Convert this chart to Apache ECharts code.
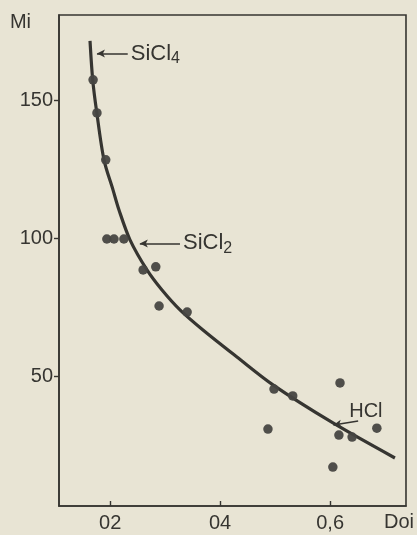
<!DOCTYPE html>
<html>
<head>
<meta charset="utf-8">
<script src="https://cdn.jsdelivr.net/npm/echarts@6/dist/echarts.min.js"></script>
<style>
  html, body { margin: 0; padding: 0; background: #e8e4d4; }
  #chart { width: 417px; height: 535px; }
</style>
</head>
<body>
<div id="chart"></div>
<script>
// measured points (Doi, Mi)
const pointsX = [0.169, 0.176, 0.192, 0.194, 0.207, 0.225, 0.260, 0.283, 0.289, 0.340,
  0.498, 0.532, 0.618, 0.487, 0.616, 0.640, 0.685, 0.605];
const pointsY = [157.5, 145.5, 128.5, 99.8, 99.8, 99.8, 88.6, 89.7, 75.5, 73.3,
  45.4, 42.9, 47.6, 30.9, 28.7, 28.0, 31.2, 17.1];

// fitted curve
const curveX = [0.1634, 0.1683, 0.1755, 0.1888, 0.2052, 0.2161, 0.2361, 0.2670,
  0.2943, 0.3270, 0.3688, 0.4306, 0.4961, 0.6052, 0.7179];
const curveY = [171.6, 157.5, 145.9, 128.5, 117.6, 110.3, 99.5, 88.6,
  81.3, 74.1, 66.8, 57.0, 46.9, 33.1, 20.4];

const xTicks = [0.2, 0.4, 0.6];
const xTickLabels = ['02', '04', '0,6'];
const yTicks = [50, 100, 150];

const ink = '#363531';
const font = 'Liberation Sans';

const chart = echarts.init(document.getElementById('chart'), null, { renderer: 'canvas' });

const arrowLabel = (main, sub) => ({
  show: true,
  position: 'end',
  distance: 3,
  formatter: '{m|' + main + '}{s|' + sub + '}',
  rich: {
    m: { fontFamily: font, fontSize: 22, color: ink },
    s: { fontFamily: font, fontSize: 16, color: ink, padding: [10, 0, 0, 0] }
  }
});

chart.setOption({
  backgroundColor: '#e8e4d4',
  animation: false,
  grid: {
    left: 59, right: 11, top: 15, bottom: 29,
    show: true, borderColor: ink, borderWidth: 1.6, backgroundColor: 'transparent'
  },
  xAxis: {
    type: 'value',
    min: 0.107, max: 0.738,
    name: 'Doi',
    nameLocation: 'end',
    nameGap: -7,
    nameTextStyle: { fontFamily: font, fontSize: 20, color: ink, align: 'center', verticalAlign: 'top', padding: [6, 0, 0, 0] },
    axisLine: { show: true, lineStyle: { color: ink, width: 1.6 } },
    axisTick: { show: true, inside: true, length: 5, customValues: xTicks, lineStyle: { color: ink, width: 1.4 } },
    axisLabel: {
      customValues: xTicks,
      margin: 7,
      fontFamily: font, fontSize: 20, color: ink,
      formatter: v => xTickLabels[xTicks.findIndex(t => Math.abs(t - v) < 1e-6)] || ''
    },
    splitLine: { show: false }
  },
  yAxis: {
    type: 'value',
    min: 3, max: 181,
    name: 'Mi',
    nameLocation: 'end',
    nameGap: -7,
    nameTextStyle: { fontFamily: font, fontSize: 20, color: ink, align: 'right', verticalAlign: 'middle', padding: [0, 28, 0, 0] },
    axisLine: { show: true, lineStyle: { color: ink, width: 1.6 } },
    axisTick: { show: true, inside: false, length: 5, customValues: yTicks, lineStyle: { color: ink, width: 1.4 } },
    axisLabel: { customValues: yTicks, margin: 6, fontFamily: font, fontSize: 20, color: ink },
    splitLine: { show: false }
  },
  series: [
    {
      type: 'line',
      data: curveX.map((x, i) => [x, curveY[i]]),
      smooth: 0.3,
      showSymbol: false,
      lineStyle: { color: ink, width: 3.2 },
      z: 3,
      markLine: {
        silent: true,
        symbol: ['arrow', 'none'],
        symbolSize: [6, 8],
        lineStyle: { color: ink, width: 1.5, type: 'solid' },
        data: [
          [{ coord: [0.176, 167], label: arrowLabel('SiCl', '4') }, { coord: [0.232, 167] }],
          [{ coord: [0.254, 98.2], label: arrowLabel('SiCl', '2') }, { coord: [0.327, 98.2] }],
          [{ coord: [0.606, 32.4], label: { show: false } }, { coord: [0.651, 33.8] }]
        ]
      },
      markPoint: {
        silent: true,
        symbol: 'circle',
        symbolSize: 0,
        label: {
          show: true, position: 'inside', formatter: 'HCl',
          fontFamily: font, fontSize: 20, color: ink
        },
        data: [{ coord: [0.665, 37.1] }]
      }
    },
    {
      type: 'scatter',
      data: pointsX.map((x, i) => [x, pointsY[i]]),
      symbolSize: 9.5,
      itemStyle: { color: '#474642', opacity: 0.95 },
      z: 4
    }
  ]
});
</script>
</body>
</html>
